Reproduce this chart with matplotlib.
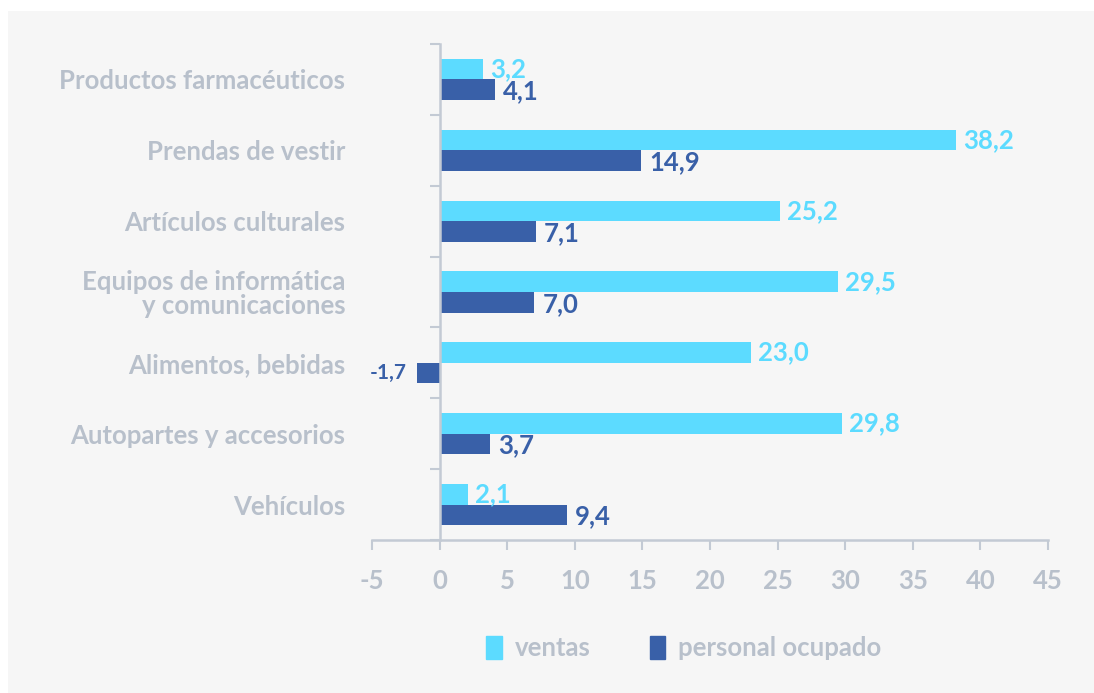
import matplotlib
matplotlib.use("Agg")
import matplotlib.pyplot as plt
from matplotlib.patches import Rectangle, Patch

# datos
categorias = ["Productos farmacéuticos", "Prendas de vestir", "Artículos culturales",
              "Equipos de informática\ny comunicaciones", "Alimentos, bebidas",
              "Autopartes y accesorios", "Vehículos"]
ventas = [3.2, 38.2, 25.2, 29.5, 23.0, 29.8, 2.1]
personal = [4.1, 14.9, 7.1, 7.0, -1.7, 3.7, 9.4]
ticks_x = [-5, 0, 5, 10, 15, 20, 25, 30, 35, 40, 45]

c_ventas = "#5cdbff"
c_personal = "#3960a8"
c_texto = "#b8c0cb"
c_eje = "#c3cad4"
fondo = "#f6f6f6"

plt.rcParams["font.family"] = ["Lato", "DejaVu Sans"]
plt.rcParams["font.weight"] = "bold"

fig = plt.figure(figsize=(10.94, 6.93), dpi=100)
fig.patch.set_facecolor("white")
fig.patches.append(Rectangle((8 / 1094, 0), 1, 1 - 11 / 693, transform=fig.transFigure,
                             facecolor=fondo, edgecolor="none", zorder=-10))

ax = fig.add_axes([372 / 1094, 1 - 540 / 693, 676 / 1094, 496 / 693])
ax.set_facecolor("none")

# el eje vertical pasa por x=0 (antes de configurar ticks, porque los resetea)
for s in ["top", "right"]:
    ax.spines[s].set_visible(False)
ax.spines["left"].set_position(("data", 0))
ax.spines["left"].set_color(c_eje)
ax.spines["left"].set_linewidth(1.8)
ax.spines["bottom"].set_color(c_eje)
ax.spines["bottom"].set_linewidth(1.8)

n = len(categorias)
pos = [n - 1 - i for i in range(n)]
h = 0.29

ax.barh([p + h / 2 for p in pos], ventas, height=h, color=c_ventas, zorder=2)
ax.barh([p - h / 2 for p in pos], personal, height=h, color=c_personal, zorder=2)

for p, v in zip(pos, ventas):
    ax.annotate(f"{v:.1f}".replace(".", ","), (v, p + h / 2), xytext=(5, 0),
                textcoords="offset points", ha="left", va="center",
                color=c_ventas, fontsize=18.5, fontweight="bold")
for p, v in zip(pos, personal):
    if v >= 0:
        ax.annotate(f"{v:.1f}".replace(".", ","), (v, p - h / 2), xytext=(6, -1),
                    textcoords="offset points", ha="left", va="center",
                    color=c_personal, fontsize=18.5, fontweight="bold")
    else:
        ax.annotate(f"{v:.1f}".replace(".", ","), (v, p - h / 2), xytext=(-7, 0),
                    textcoords="offset points", ha="right", va="center",
                    color=c_personal, fontsize=15, fontweight="bold")

ax.set_xlim(-5, 45)
ax.set_ylim(-0.5, n - 0.5)
ax.set_xticks(ticks_x)
ax.set_xticklabels([str(t) for t in ticks_x], color=c_texto, fontsize=18.5)
ax.tick_params(axis="x", length=7, width=1.5, color=c_eje, pad=14)

ax.set_yticks(pos)
ax.set_yticklabels(categorias, color=c_texto, fontsize=18.5, linespacing=1.0)
ax.tick_params(axis="y", which="major", length=0, pad=68)
ax.set_yticks([p + 0.5 for p in range(-1, n)], minor=True)
ax.tick_params(axis="y", which="minor", length=7, width=1.5, color=c_eje)

handles = [Patch(color=c_ventas, label="ventas"), Patch(color=c_personal, label="personal ocupado")]
fig.legend(handles=handles, loc="center", bbox_to_anchor=(0.625, 1 - 648 / 693), ncol=2,
           frameon=False, fontsize=18.5, labelcolor=c_texto, handlelength=0.6, handleheight=1.0,
           columnspacing=2.3, handletextpad=0.5)

fig.savefig("out.png", dpi=100, facecolor=fig.get_facecolor())
